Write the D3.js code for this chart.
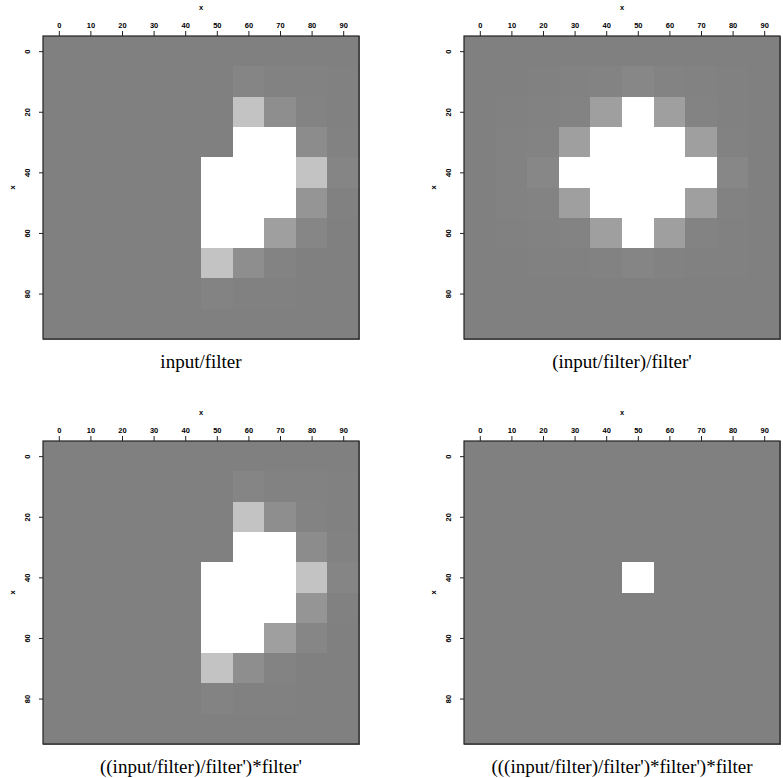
<!DOCTYPE html>
<html>
<head>
<meta charset="utf-8">
<script src="https://cdn.jsdelivr.net/npm/d3@7"></script>
<style>
  body { margin: 0; background: #fff; }
  .tick text { font-family: "Liberation Sans", sans-serif; font-weight: bold; font-size: 7.5px; fill: #000; }
  .tick line { stroke: #222; }
  .axisLabel { font-family: "Liberation Sans", sans-serif; font-weight: bold; font-size: 7.5px; }
  .title { font-family: "Liberation Serif", serif; font-size: 19px; }
  .cell { shape-rendering: crispEdges; }
</style>
</head>
<body>
<div id="chart"></div>
<script>
// cell centres along each axis (both axes are sampled every 10)
var xCells = [0, 10, 20, 30, 40, 50, 60, 70, 80, 90];
var yCells = [0, 10, 20, 30, 40, 50, 60, 70, 80, 90];

// tick labels
var xTicks = [0, 10, 20, 30, 40, 50, 60, 70, 80, 90];
var yTicks = [0, 20, 40, 60, 80];

// panel titles
var titles = [
  "input/filter",
  "(input/filter)/filter'",
  "((input/filter)/filter')*filter'",
  "(((input/filter)/filter')*filter')*filter"
];

// amplitudes, one row per y cell (0 = grey background, >= 1 = white)
var inputFilter = [
  [0, 0, 0, 0, 0, 0,    0,    0,    0,    0],
  [0, 0, 0, 0, 0, 0,    0.04, 0.02, 0.02, 0.015],
  [0, 0, 0, 0, 0, 0,    0.53, 0.11, 0.03, 0.01],
  [0, 0, 0, 0, 0, 0,    1.5,  1.5,  0.1,  0.02],
  [0, 0, 0, 0, 0, 1.5,  1.5,  1.5,  0.53, 0.04],
  [0, 0, 0, 0, 0, 1.5,  1.5,  1.5,  0.17, 0.01],
  [0, 0, 0, 0, 0, 1.5,  1.5,  0.25, 0.05, 0.005],
  [0, 0, 0, 0, 0, 0.53, 0.11, 0.03, 0.005, 0],
  [0, 0, 0, 0, 0, 0.03, 0.015, 0.015, 0,  0],
  [0, 0, 0, 0, 0, 0,    0,    0,    0,    0]
];

var inputFilterFilter = [
  [0, 0,    0,    0,    0,    0,    0,    0,    0,    0],
  [0, 0,    0.01, 0.02, 0.03, 0.055, 0.03, 0.02, 0.01, 0],
  [0, 0.01, 0.02, 0.03, 0.25, 1.5,  0.25, 0.03, 0.015, 0],
  [0, 0.02, 0.025, 0.25, 1.5, 1.5,  1.5,  0.25, 0.02, 0.005],
  [0, 0.02, 0.06, 1.5,  1.5,  1.5,  1.5,  1.5,  0.055, 0.005],
  [0, 0.02, 0.025, 0.25, 1.5, 1.5,  1.5,  0.25, 0.02, 0.005],
  [0, 0.01, 0.02, 0.03, 0.25, 1.5,  0.25, 0.03, 0.015, 0],
  [0, 0.005, 0.01, 0.015, 0.02, 0.04, 0.02, 0.015, 0.01, 0],
  [0, 0,    0,    0,    0,    0,    0,    0,    0,    0],
  [0, 0,    0,    0,    0,    0,    0,    0,    0,    0]
];

var restored = [
  [0, 0, 0, 0, 0, 0,    0,    0,    0,    0],
  [0, 0, 0, 0, 0, 0,    0.04, 0.02, 0.02, 0.015],
  [0, 0, 0, 0, 0, 0,    0.53, 0.11, 0.03, 0.01],
  [0, 0, 0, 0, 0, 0,    1.5,  1.5,  0.1,  0.02],
  [0, 0, 0, 0, 0, 1.5,  1.5,  1.5,  0.53, 0.04],
  [0, 0, 0, 0, 0, 1.5,  1.5,  1.5,  0.17, 0.01],
  [0, 0, 0, 0, 0, 1.5,  1.5,  0.25, 0.05, 0.005],
  [0, 0, 0, 0, 0, 0.53, 0.11, 0.03, 0.005, 0],
  [0, 0, 0, 0, 0, 0.03, 0.015, 0.015, 0,  0],
  [0, 0, 0, 0, 0, 0,    0,    0,    0,    0]
];

var spike = [
  [0, 0, 0, 0, 0, 0,   0, 0, 0, 0],
  [0, 0, 0, 0, 0, 0,   0, 0, 0, 0],
  [0, 0, 0, 0, 0, 0,   0, 0, 0, 0],
  [0, 0, 0, 0, 0, 0,   0, 0, 0, 0],
  [0, 0, 0, 0, 0, 1.5, 0, 0, 0, 0],
  [0, 0, 0, 0, 0, 0,   0, 0, 0, 0],
  [0, 0, 0, 0, 0, 0,   0, 0, 0, 0],
  [0, 0, 0, 0, 0, 0,   0, 0, 0, 0],
  [0, 0, 0, 0, 0, 0,   0, 0, 0, 0],
  [0, 0, 0, 0, 0, 0,   0, 0, 0, 0]
];

var panels = [inputFilter, inputFilterFilter, restored, spike];

var svgWidth = 783;
var svgHeight = 778;

// each panel frame
var plotWidth = 316;
var plotHeight = 303;
var origins = [[43, 36], [464, 36], [43, 441], [464, 441]];

var svg = d3.select("#chart").append("svg")
  .attr("width", svgWidth)
  .attr("height", svgHeight);

var xScale = d3.scaleLinear().domain([-5, 95]).range([0, plotWidth]);
var yScale = d3.scaleLinear().domain([-5, 95]).range([0, plotHeight]);

// grey ramp, clipped to white
var colour = d3.scaleLinear().domain([-1, 1]).range(["#000000", "#ffffff"]).clamp(true);

var cellW = xScale(10) - xScale(0);
var cellH = yScale(10) - yScale(0);

panels.forEach(function(grid, p) {
  var g = svg.append("g")
    .attr("transform", `translate(${origins[p][0]}, ${origins[p][1]})`);

  // flatten to cells
  var cells = [];
  grid.forEach(function(row, j) {
    row.forEach(function(v, i) {
      cells.push({ x: xCells[i], y: yCells[j], v: v });
    });
  });

  g.selectAll("rect.cell")
    .data(cells)
    .enter()
    .append("rect")
    .attr("class", "cell")
    .attr("x", d => xScale(d.x - 5))
    .attr("y", d => yScale(d.y - 5))
    .attr("width", cellW + 0.6)
    .attr("height", cellH + 0.6)
    .attr("fill", d => colour(d.v));

  // frame
  g.append("rect")
    .attr("width", plotWidth)
    .attr("height", plotHeight)
    .attr("fill", "none")
    .attr("stroke", "#222")
    .attr("stroke-width", 1.2);

  // top axis
  var top = g.append("g")
    .call(d3.axisTop(xScale).tickValues(xTicks).tickSize(5).tickPadding(3));
  top.select(".domain").remove();
  top.attr("font-family", null).attr("font-size", null);

  // left axis, labels turned on their side
  var left = g.append("g")
    .call(d3.axisLeft(yScale).tickValues(yTicks).tickSize(4));
  left.select(".domain").remove();
  left.attr("font-family", null).attr("font-size", null);
  left.selectAll("text")
    .attr("transform", "rotate(-90)")
    .attr("text-anchor", "middle")
    .attr("x", 0)
    .attr("y", -13.5)
    .attr("dy", 0);

  // axis labels
  g.append("text")
    .attr("class", "axisLabel")
    .attr("x", plotWidth / 2)
    .attr("y", -26)
    .attr("text-anchor", "middle")
    .text("x");

  g.append("text")
    .attr("class", "axisLabel")
    .attr("transform", `translate(-28, ${plotHeight / 2}) rotate(-90)`)
    .attr("text-anchor", "middle")
    .text("x");

  // title under the frame
  g.append("text")
    .attr("class", "title")
    .attr("x", plotWidth / 2)
    .attr("y", plotHeight + 29)
    .attr("text-anchor", "middle")
    .text(titles[p]);
});
</script>
</body>
</html>
